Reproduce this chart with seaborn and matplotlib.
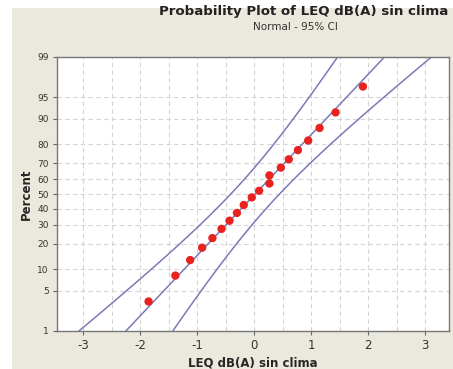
import numpy as np
import pandas as pd
import matplotlib
matplotlib.use("Agg")
import matplotlib.pyplot as plt
import seaborn as sns
from statistics import NormalDist
from matplotlib.patches import Rectangle

# ---- data ----
leq_values = [-1.85, -1.38, -1.12, -0.91, -0.73, -0.57, -0.43, -0.30, -0.18, -0.04,
              0.09, 0.27, 0.27, 0.47, 0.61, 0.77, 0.95, 1.15, 1.43, 1.91]
percent_values = [3.4, 8.3, 13.1, 18.1, 22.7, 27.7, 32.5, 37.4, 42.6, 47.7,
                  52.2, 57.1, 62.4, 67.3, 72.2, 77.2, 81.8, 86.9, 91.7, 96.6]
fit_mean = 0.02
fit_sigma = 0.975
n_obs = 20
percent_ticks = [1, 5, 10, 20, 30, 40, 50, 60, 70, 80, 90, 95, 99]
x_ticks = [-3, -2, -1, 0, 1, 2, 3]

nd = NormalDist()
df = pd.DataFrame({"x": leq_values,
                   "z": [nd.inv_cdf(p / 100) for p in percent_values]})

zz = np.linspace(nd.inv_cdf(0.005), nd.inv_cdf(0.995), 200)
center = fit_mean + fit_sigma * zz
half = 1.96 * fit_sigma * np.sqrt((1 + zz ** 2 / 2) / n_obs)
lines = pd.DataFrame({
    "z": np.concatenate([zz, zz, zz]),
    "x": np.concatenate([center, center - half, center + half]),
    "kind": ["fit"] * len(zz) + ["lo"] * len(zz) + ["hi"] * len(zz),
})

sns.set_style("white")
plt.rcParams["font.family"] = ["DejaVu Sans"]

fig = plt.figure(figsize=(4.53, 3.69), dpi=100)
fig.patch.set_facecolor("white")
fig.patches.append(Rectangle((12 / 453, 0), 1, 1 - 8 / 369, transform=fig.transFigure,
                             facecolor="#ebe8dd", edgecolor="none", zorder=-10))
ax = fig.add_axes([57 / 453, 1 - 331 / 369, (449 - 57) / 453, (331 - 57) / 369])
ax.set_facecolor("white")

line_col = "#7a7ab8"
for k in ["fit", "lo", "hi"]:
    sub = lines[lines["kind"] == k]
    sns.lineplot(data=sub, x="x", y="z", ax=ax, color=line_col, lw=1.1,
                 sort=False, estimator=None, zorder=2)
sns.scatterplot(data=df, x="x", y="z", ax=ax, color="#e8231f", s=36,
                edgecolor="none", zorder=3)

ax.set_xlim(-3.456, 3.42)
ax.set_ylim(nd.inv_cdf(0.01), nd.inv_cdf(0.99))
ax.set_xticks(x_ticks)
ax.set_xticklabels([str(t) for t in x_ticks], fontsize=8.5, color="#333333")
ax.set_xticks(np.arange(-3, 3.01, 0.5), minor=True)
ax.set_yticks([nd.inv_cdf(p / 100) for p in percent_ticks])
ax.set_yticklabels([str(p) for p in percent_ticks], fontsize=6.5, color="#333333")

ax.grid(True, which="both", axis="x", ls=(0, (4, 3)), color="#d4d4d4", lw=0.8)
ax.grid(True, which="major", axis="y", ls=(0, (4, 3)), color="#d4d4d4", lw=0.8)
ax.set_axisbelow(True)
ax.tick_params(axis="both", which="major", direction="out", length=3, width=0.8,
               color="#666666", bottom=True, left=True, pad=3)
ax.tick_params(axis="x", which="minor", length=0)
for s in ax.spines.values():
    s.set_color("#777777")
    s.set_linewidth(1.0)

ax.set_xlabel("LEQ dB(A) sin clima", fontsize=8.5, fontweight="bold", labelpad=3)
ax.set_ylabel("Percent", fontsize=8.5, fontweight="bold", labelpad=3)

fig.text(448 / 453, 1 - 11 / 369, "Probability Plot of LEQ dB(A) sin clima",
         ha="right", va="center", fontsize=9.6, fontweight="bold", color="#222222")
fig.text(295 / 453, 1 - 27 / 369, "Normal - 95% CI", ha="center", va="center",
         fontsize=7.5, color="#333333")

fig.savefig("out.png", dpi=100, facecolor=fig.get_facecolor())
